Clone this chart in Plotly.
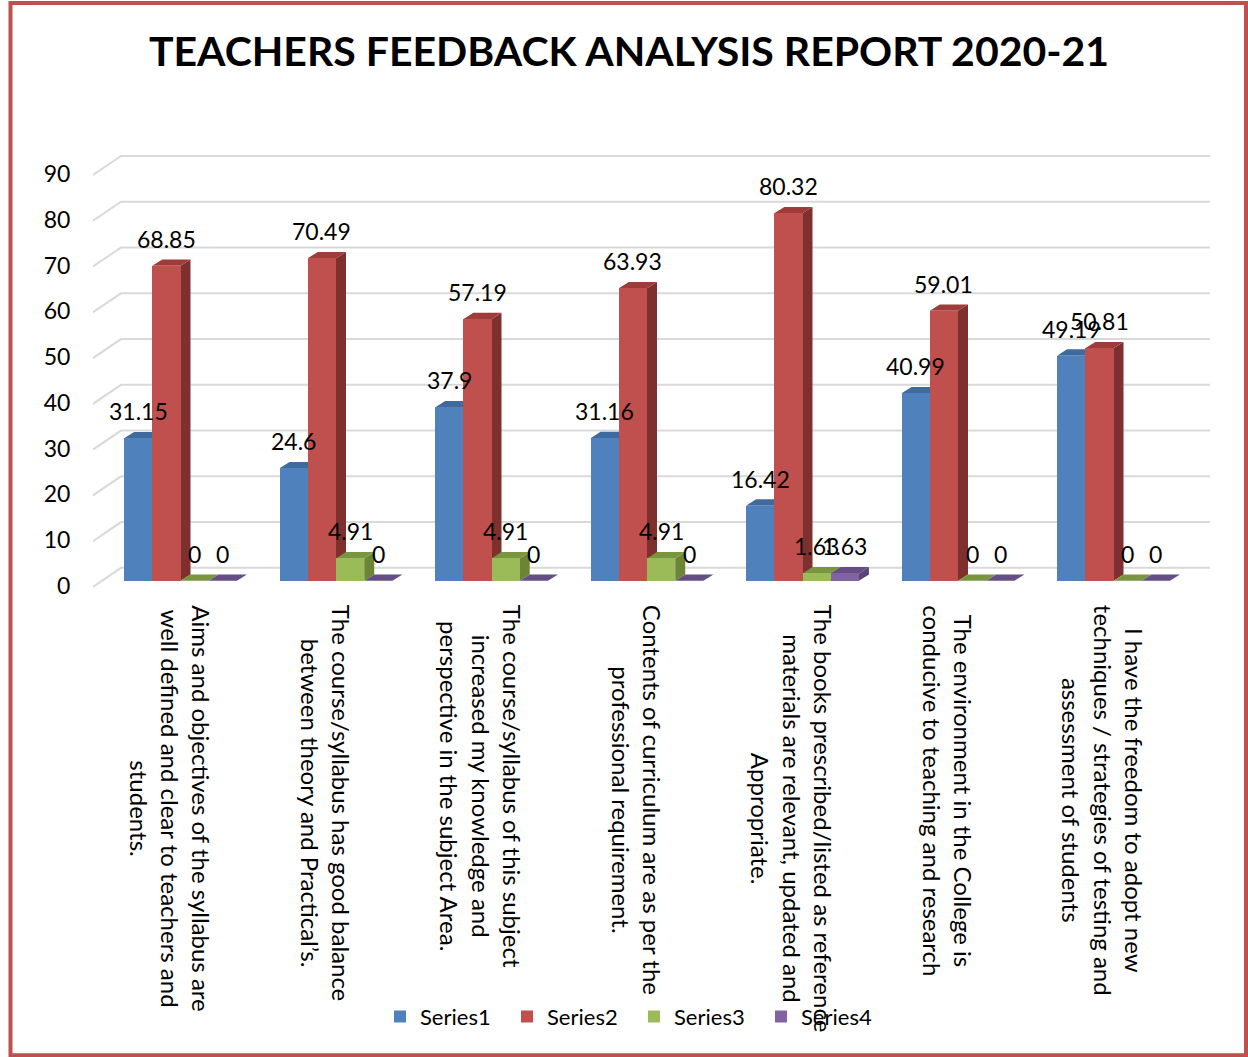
import plotly.graph_objects as go

# ---------------- data ----------------
categories = [
    "Aims and objectives of the syllabus are<br>well defined and clear to teachers and<br>students.",
    "The course/syllabus has good balance<br>between theory and Practical’s.",
    "The course/syllabus of this subject<br>increased my knowledge and<br>perspective in the subject Area.",
    "Contents of curriculum are as per the<br>professional requirement.",
    "The books prescribed/listed as reference<br>materials are relevant, updated and<br>Appropriate.",
    "The environment in the College is<br>conducive to teaching and research",
    "I have the freedom to adopt new<br>techniques / strategies of testing and<br>assessment of students",
]
series_names = ["Series1", "Series2", "Series3", "Series4"]
series1 = [31.15, 24.6, 37.9, 31.16, 16.42, 40.99, 49.19]
series2 = [68.85, 70.49, 57.19, 63.93, 80.32, 59.01, 50.81]
series3 = [0, 4.91, 4.91, 4.91, 1.63, 0, 0]
series4 = [0, 0, 0, 0, 1.63, 0, 0]
y_ticks = [0, 10, 20, 30, 40, 50, 60, 70, 80, 90]
title_text = "TEACHERS FEEDBACK ANALYSIS REPORT 2020-21"

# ---------------- styling ----------------
front_colors = ["#4F81BD", "#C0504D", "#9BBB59", "#8064A2"]
side_colors = ["#385D8A", "#7E302E", "#6B8534", "#5B4578"]
top_colors = ["#3F6A9E", "#9E3C3A", "#7A9540", "#654E86"]
FONT = "Lato"

W, H = 1248, 1057
L_PX, R_PX = 93, 1210
Y0_PX = 581.0          # pixel of value 0
PX_PER_UNIT_Y = 4.578
PX_PER_CAT = 155.5
CAT0_PX = 180.5
x_range = [(L_PX - CAT0_PX) / PX_PER_CAT, (R_PX - CAT0_PX) / PX_PER_CAT]
y_range = [-2.0, 93.5]
T_PX = Y0_PX - y_range[1] * PX_PER_UNIT_Y
B_PX = Y0_PX - y_range[0] * PX_PER_UNIT_Y
plot_w = R_PX - L_PX
plot_h = B_PX - T_PX

bar_w = 0.1815
depth_dx = 10 / PX_PER_CAT
depth_dy = 6.4 / PX_PER_UNIT_Y
wall_dx = 28 / PX_PER_CAT
wall_front_dy = -6 / PX_PER_UNIT_Y
wall_back_dy = 13 / PX_PER_UNIT_Y

all_series = [series1, series2, series3, series4]

fig = go.Figure()
shapes = []
annotations = []

# gridlines (3D wall style)
for v in y_ticks:
    x0 = x_range[0]
    path = (f"M {x0},{v + wall_front_dy} L {x0 + wall_dx},{v + wall_back_dy} "
            f"L {x_range[1]},{v + wall_back_dy}")
    shapes.append(dict(type="path", path=path, xref="x", yref="y",
                       line=dict(color="#D9D9D9", width=2), layer="below"))

for s, (name, vals) in enumerate(zip(series_names, all_series)):
    off = (s - 1.5) * bar_w
    xs = [i + off for i in range(len(vals))]
    fig.add_trace(go.Bar(
        x=xs, y=vals, width=bar_w, name=name,
        marker=dict(color=front_colors[s], line=dict(width=0)),
        hoverinfo="skip",
    ))
    for xc, v in zip(xs, vals):
        xl, xr = xc - bar_w / 2, xc + bar_w / 2
        side = (f"M {xr},0 L {xr + depth_dx},{depth_dy} L {xr + depth_dx},{v + depth_dy} "
                f"L {xr},{v} Z")
        top = (f"M {xl},{v} L {xl + depth_dx},{v + depth_dy} L {xr + depth_dx},{v + depth_dy} "
               f"L {xr},{v} Z")
        shapes.append(dict(type="path", path=side, xref="x", yref="y",
                           fillcolor=side_colors[s], line=dict(width=0), layer="between"))
        shapes.append(dict(type="path", path=top, xref="x", yref="y",
                           fillcolor=top_colors[s], line=dict(width=0), layer="between"))
        annotations.append(dict(
            x=xc, y=v, xref="x", yref="y", text=f"{v:g}", showarrow=False,
            xanchor="center", yanchor="middle", yshift=27,
            font=dict(family=FONT, size=23, color="#000000"),
        ))

# category labels (rotated, centred)
for i, cat in enumerate(categories):
    annotations.append(dict(
        x=i, y=(B_PX - 603) / plot_h, xref="x", yref="paper", text=cat,
        showarrow=False, textangle=90, align="center",
        xanchor="center", yanchor="top", xshift=-10,
        font=dict(family=FONT, size=24, color="#000000"),
    ))

# outer border
def px_to_paper_x(px):
    return (px - L_PX) / plot_w

def px_to_paper_y(py):
    return (B_PX - py) / plot_h

shapes.append(dict(type="rect", xref="paper", yref="paper",
                   x0=px_to_paper_x(10.5), x1=px_to_paper_x(1246),
                   y0=px_to_paper_y(1055.5), y1=px_to_paper_y(3),
                   line=dict(color="#C0504D", width=4), layer="above"))

fig.update_layout(
    width=W, height=H,
    margin=dict(l=L_PX, r=W - R_PX, t=T_PX, b=H - B_PX, pad=0),
    paper_bgcolor="white", plot_bgcolor="white",
    barmode="overlay",
    bargap=0,
    title=dict(text=f"<b>{title_text}</b>", xref="paper", yref="container",
               x=(629 - L_PX) / plot_w, xanchor="center", y=1 - 52 / H, yanchor="middle",
               font=dict(family=FONT, size=41, color="#000000")),
    xaxis=dict(range=x_range, showgrid=False, zeroline=False, showline=False,
               showticklabels=False, ticks="", automargin=False, fixedrange=True),
    yaxis=dict(range=y_range, tickvals=y_ticks, ticktext=[str(t) for t in y_ticks],
               showgrid=False, zeroline=False, showline=False,
               ticks="outside", ticklen=17, tickcolor="rgba(0,0,0,0)",
               ticklabelshift=5,
               tickfont=dict(family=FONT, size=23, color="#000000"),
               automargin=False, fixedrange=True),
    legend=dict(orientation="h", x=px_to_paper_x(634), xanchor="center",
                y=px_to_paper_y(1017), yanchor="middle",
                bgcolor="rgba(0,0,0,0)", entrywidth=82, entrywidthmode="pixels",
                font=dict(family=FONT, size=22, color="#000000"), traceorder="normal"),
    showlegend=True,
    shapes=shapes,
    annotations=annotations,
)

fig.write_html("out.html",
               config={"displayModeBar": False},
               post_script="document.body.style.margin='0';document.body.style.overflow='hidden';")
